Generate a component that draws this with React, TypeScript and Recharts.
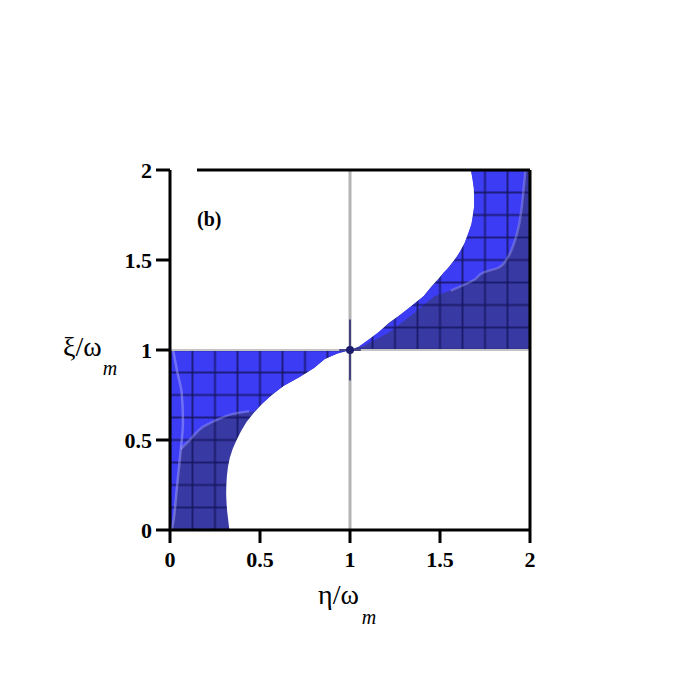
import React from 'react';
import {
  ComposedChart,
  Area,
  Line,
  XAxis,
  YAxis,
  ReferenceLine,
  ReferenceDot,
  Label,
} from 'recharts';

// ---- data ----
const xTicks = [0, 0.5, 1, 1.5, 2];
const yTicks = [0, 0.5, 1, 1.5, 2];

// lower-left unstable region: x from 0 to boundary, for y in [0,1]
const lowerBoundaryY = [0, 0.05, 0.1, 0.15, 0.2, 0.25, 0.3, 0.35, 0.4, 0.45, 0.5, 0.55, 0.6, 0.65, 0.7, 0.75, 0.8, 0.85, 0.9, 0.95, 0.98, 1.0];
const lowerBoundaryX = [0.33, 0.324, 0.318, 0.314, 0.312, 0.313, 0.316, 0.322, 0.332, 0.348, 0.37, 0.395, 0.425, 0.465, 0.51, 0.565, 0.63, 0.72, 0.8, 0.86, 0.93, 1.0];

// bright part of lower-left region: x from 0 to this edge
const lowerBrightY = [0, 0.22, 0.41, 0.45, 0.5, 0.574, 0.62, 0.645, 0.66, 0.7, 0.75, 0.8, 0.85, 0.9, 0.95, 0.98, 1.0];
const lowerBrightX = [0.01, 0.037, 0.056, 0.06, 0.11, 0.185, 0.28, 0.35, 0.47, 0.51, 0.565, 0.63, 0.72, 0.8, 0.86, 0.93, 1.0];

// upper-right unstable region: x from boundary to 2, for y in [1,2]
const upperBoundaryY = [1.0, 1.02, 1.05, 1.1, 1.15, 1.2, 1.25, 1.3, 1.35, 1.4, 1.45, 1.5, 1.55, 1.6, 1.65, 1.7, 1.75, 1.8, 1.85, 1.9, 1.95, 2.0];
const upperBoundaryX = [1.0, 1.05, 1.1, 1.16, 1.215, 1.285, 1.35, 1.41, 1.45, 1.495, 1.54, 1.58, 1.615, 1.64, 1.66, 1.675, 1.685, 1.69, 1.69, 1.688, 1.682, 1.672];

// bright part of upper-right region: band along the boundary, widening up to the light streak
const upperBrightY = [1.02, 1.1, 1.2, 1.3, 1.33, 1.39, 1.43, 1.46, 1.52, 1.59, 1.7, 1.8, 1.9, 2.0];
const upperBrightLo = [1.05, 1.16, 1.285, 1.41, 1.435, 1.49, 1.52, 1.55, 1.595, 1.635, 1.675, 1.69, 1.688, 1.672];
const upperBrightHi = [1.07, 1.22, 1.35, 1.47, 1.56, 1.69, 1.74, 1.83, 1.88, 1.91, 1.94, 1.955, 1.965, 1.975];

// light streaks
const streakTopY = [1.0, 0.88, 0.76, 0.6, 0.45];
const streakTopX = [0.017, 0.04, 0.065, 0.072, 0.06];
const streakLowY = [0.45, 0.41, 0.22, 0.056, 0.0];
const streakLowX = [0.06, 0.056, 0.037, 0.02, 0.01];
const streakMidY = [0.45, 0.5, 0.574, 0.62, 0.645, 0.66];
const streakMidX = [0.06, 0.11, 0.185, 0.28, 0.35, 0.44];
const streakUpY = [2.0, 1.9, 1.8, 1.7, 1.59, 1.52, 1.46, 1.43, 1.39, 1.33];
const streakUpX = [1.975, 1.965, 1.955, 1.94, 1.91, 1.88, 1.83, 1.74, 1.69, 1.56];

// ---- tables built from the arrays ----
const lowerRegion = lowerBoundaryY.map((y, i) => ({ y, x: [0, lowerBoundaryX[i]] }));
const lowerBright = lowerBrightY.map((y, i) => ({ y, x: [0, lowerBrightX[i]] }));
const upperRegion = upperBoundaryY.map((y, i) => ({ y, x: [upperBoundaryX[i], 2] }));
const upperBright = upperBrightY.map((y, i) => ({ y, x: [upperBrightLo[i], upperBrightHi[i]] }));
const toLine = (ys: number[], xs: number[]) => ys.map((y, i) => ({ y, x: xs[i] }));
const streakTop = toLine(streakTopY, streakTopX);
const streakLow = toLine(streakLowY, streakLowX);
const streakMid = toLine(streakMidY, streakMidX);
const streakUp = toLine(streakUpY, streakUpX);

const SERIF = '"Liberation Serif", "DejaVu Serif", serif';
const BRIGHT = '#3c3cf4';
const DARK = '#3939a4';
const GRIDC = '#14145a';
const STREAK = '#a4a4f8';
const NAVY = '#1c1c6e';

const W = 692;
const H = 692;
const PLOT_LEFT = 162;
const PLOT_TOP = 162;
const PLOT_SIZE = 360;
const Y_AXIS_W = 70;
const X_AXIS_H = 60;
const CELL = PLOT_SIZE / 16;

const tickStyle = { fontFamily: SERIF, fontWeight: 'bold', fontSize: 22, fill: '#000' };

const XLabel = (props: any) => {
  const vb = props.viewBox || { x: PLOT_LEFT, width: PLOT_SIZE };
  const cx = vb.x + vb.width / 2;
  return (
    <text x={cx - 32} y={596} fontFamily={SERIF} fontSize={28} fill="#000">
      η/ω
      <tspan fontSize={20} fontStyle="italic" dx={3} dy={20}>m</tspan>
    </text>
  );
};

const YLabel = (props: any) => {
  const vb = props.viewBox || { y: PLOT_TOP, height: PLOT_SIZE };
  const cy = vb.y + vb.height / 2;
  return (
    <text x={55} y={cy + 6} fontFamily={SERIF} fontSize={28} fill="#000">
      ξ/ω
      <tspan fontSize={20} fontStyle="italic" dx={1} dy={19}>m</tspan>
    </text>
  );
};

const PanelTag = (p: any) => (
  <text x={p.cx} y={p.cy} fontFamily={SERIF} fontWeight="bold" fontSize={20} fill="#000">
    (b)
  </text>
);

export default function App() {
  return (
    <ComposedChart
      width={W}
      height={H}
      layout="vertical"
      margin={{
        top: PLOT_TOP,
        left: PLOT_LEFT - Y_AXIS_W,
        right: W - PLOT_LEFT - PLOT_SIZE,
        bottom: H - PLOT_TOP - PLOT_SIZE - X_AXIS_H,
      }}
    >
      <defs>
        <pattern id="gridBright" patternUnits="userSpaceOnUse" x={PLOT_LEFT - CELL / 2} y={PLOT_TOP - CELL / 2} width={CELL} height={CELL}>
          <rect x={0} y={0} width={CELL} height={CELL} fill={BRIGHT} />
          <line x1={CELL / 2} y1={0} x2={CELL / 2} y2={CELL} stroke={GRIDC} strokeWidth={2} strokeOpacity={0.75} />
          <line x1={0} y1={CELL / 2} x2={CELL} y2={CELL / 2} stroke={GRIDC} strokeWidth={2} strokeOpacity={0.75} />
        </pattern>
        <pattern id="gridDark" patternUnits="userSpaceOnUse" x={PLOT_LEFT - CELL / 2} y={PLOT_TOP - CELL / 2} width={CELL} height={CELL}>
          <rect x={0} y={0} width={CELL} height={CELL} fill={DARK} />
          <line x1={CELL / 2} y1={0} x2={CELL / 2} y2={CELL} stroke={GRIDC} strokeWidth={2} strokeOpacity={0.75} />
          <line x1={0} y1={CELL / 2} x2={CELL} y2={CELL / 2} stroke={GRIDC} strokeWidth={2} strokeOpacity={0.75} />
        </pattern>
      </defs>
      <XAxis
        type="number"
        dataKey="x"
        domain={[0, 2]}
        ticks={xTicks}
        allowDataOverflow
        height={X_AXIS_H}
        tickSize={13}
        tickMargin={8}
        tick={tickStyle}
        tickFormatter={(v: number) => String(v)}
        tickLine={{ stroke: '#000', strokeWidth: 3 }}
        axisLine={{ stroke: '#000', strokeWidth: 3 }}
      >
        <Label content={XLabel} />
      </XAxis>
      <YAxis
        type="number"
        dataKey="y"
        domain={[0, 2]}
        reversed
        ticks={yTicks}
        allowDataOverflow
        width={Y_AXIS_W}
        tickSize={14}
        tickMargin={4}
        tick={tickStyle}
        tickFormatter={(v: number) => String(v)}
        tickLine={{ stroke: '#000', strokeWidth: 3 }}
        axisLine={{ stroke: '#000', strokeWidth: 3 }}
      >
        <Label content={YLabel} />
      </YAxis>

      <Area data={lowerRegion} dataKey="x" type="linear" fill="url(#gridDark)" fillOpacity={1} stroke="none" isAnimationActive={false} />
      <Area data={lowerBright} dataKey="x" type="linear" fill="url(#gridBright)" fillOpacity={1} stroke="none" isAnimationActive={false} />
      <Area data={upperRegion} dataKey="x" type="linear" fill="url(#gridDark)" fillOpacity={1} stroke="none" isAnimationActive={false} />
      <Area data={upperBright} dataKey="x" type="linear" fill="url(#gridBright)" fillOpacity={1} stroke="none" isAnimationActive={false} />

      <Line data={streakTop} dataKey="x" type="monotone" stroke={STREAK} strokeWidth={2.5} strokeOpacity={0.5} dot={false} isAnimationActive={false} />
      <Line data={streakLow} dataKey="x" type="monotone" stroke={STREAK} strokeWidth={2.5} strokeOpacity={0.5} dot={false} isAnimationActive={false} />
      <Line data={streakMid} dataKey="x" type="monotone" stroke={STREAK} strokeWidth={2.5} strokeOpacity={0.4} dot={false} isAnimationActive={false} />
      <Line data={streakUp} dataKey="x" type="monotone" stroke={STREAK} strokeWidth={2.5} strokeOpacity={0.4} dot={false} isAnimationActive={false} />

      <ReferenceLine x={1} stroke="#b4b4b4" strokeWidth={3} />
      <ReferenceLine y={1} stroke="#c4c4c4" strokeWidth={2} />
      <ReferenceLine segment={[{ x: 1, y: 0.83 }, { x: 1, y: 1.17 }]} stroke={NAVY} strokeWidth={1.5} />
      <ReferenceLine segment={[{ x: 0.94, y: 1 }, { x: 1.06, y: 1 }]} stroke={NAVY} strokeWidth={1.5} />
      <ReferenceDot x={1} y={1} r={4} fill={NAVY} stroke="none" />

      <ReferenceLine x={2} stroke="#000" strokeWidth={3} />
      <ReferenceLine segment={[{ x: 0.15, y: 2 }, { x: 2, y: 2 }]} stroke="#000" strokeWidth={3} />

      <ReferenceDot x={0.15} y={1.69} r={0} shape={PanelTag} />
    </ComposedChart>
  );
}
